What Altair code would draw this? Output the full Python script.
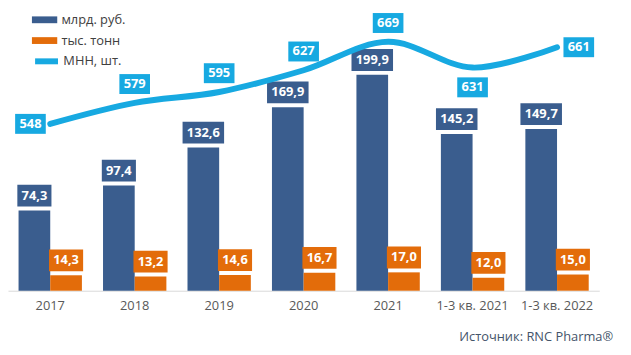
import altair as alt
import pandas as pd

categories = ["2017", "2018", "2019", "2020", "2021", "1-3 кв. 2021", "1-3 кв. 2022"]
rub = [74.3, 97.4, 132.6, 169.9, 199.9, 145.2, 149.7]
tons = [14.3, 13.2, 14.6, 16.7, 17.0, 12.0, 15.0]
inn = [548, 579, 595, 627, 669, 631, 661]
series_names = ["млрд. руб.", "тыс. тонн", "МНН, шт."]
source_text = "Источник: RNC Pharma®"

BLUE = "#3A5D8E"
ORANGE = "#E36C0A"
CYAN = "#17A9E1"
FONT = "Open Sans"

bars_df = pd.DataFrame({
    "cat": categories * 2,
    "series": [series_names[0]] * len(categories) + [series_names[1]] * len(categories),
    "value": rub + tons,
})
line_df = pd.DataFrame({"cat": categories, "series": series_names[2], "value": inn})

x_enc = alt.X("cat:N", sort=categories,
              scale=alt.Scale(paddingInner=0.25, paddingOuter=0.125),
              axis=alt.Axis(title=None, labelAngle=0, ticks=False, domainColor="#D9D9D9",
                            labelColor="#595959", labelFontSize=13, labelPadding=9,
                            labelFont=FONT))
xoff = alt.XOffset("series:N", sort=series_names[:2])
y_bar = alt.Y("value:Q", scale=alt.Scale(domain=[0, 260], nice=False), axis=None)
y_line = alt.Y("value:Q", scale=alt.Scale(domain=[302, 716], nice=False, zero=False), axis=None)

label_calc = "replace(format(datum.value, '.1f'), '.', ',')"
box_w = "(7.5*length(datum.label) - 4*(indexof(datum.label, ',') >= 0 ? 1 : 0) + 8.5)/48"
shape_calc = ("'M-' + " + box_w + " + ',-HH L' + " + box_w + " + ',-HH L' + " + box_w +
              " + ',HH L-' + " + box_w + " + ',HH Z'")

rect_path = "M-1.6,-0.43L1.6,-0.43L1.6,0.43L-1.6,0.43Z"
stroke_path = "M-1.45,0L1.45,0"

base_bar = alt.Chart(bars_df).encode(x=x_enc, xOffset=xoff, y=y_bar)

bars = base_bar.mark_bar().encode(
    color=alt.Color("series:N", sort=series_names[:2],
                    scale=alt.Scale(domain=series_names[:2], range=[BLUE, ORANGE]),
                    legend=alt.Legend(title=None, orient="none", legendX=28, legendY=1,
                                      symbolType=rect_path, symbolSize=256,
                                      labelFontSize=13, labelColor="#404040", labelFont=FONT,
                                      rowPadding=5, labelOffset=8, padding=0))
)

bar_lab = base_bar.transform_calculate(label=label_calc).transform_calculate(
    shp=shape_calc.replace("HH", "0.46"))
bar_boxes = bar_lab.mark_point(filled=True, opacity=1, size=2304, yOffset=-15, strokeWidth=0).encode(
    shape=alt.Shape("shp:N", scale=None),
    fill=alt.condition(alt.datum.series == series_names[0], alt.value(BLUE), alt.value(ORANGE)),
)
bar_texts = bar_lab.mark_text(color="white", fontWeight="bold", fontSize=13, font=FONT,
                              yOffset=-15, baseline="middle").encode(text="label:N")

bar_layer = alt.layer(bars, bar_boxes, bar_texts)

base_line = alt.Chart(line_df).encode(x=x_enc, y=y_line)
line = base_line.mark_line(interpolate="catmull-rom", strokeWidth=6, strokeCap="round").encode(
    stroke=alt.Stroke("series:N", scale=alt.Scale(domain=[series_names[2]], range=[CYAN]),
                      legend=alt.Legend(title=None, orient="none", legendX=28, legendY=41,
                                        symbolType=stroke_path, symbolSize=256,
                                        symbolStrokeWidth=6, labelFontSize=13,
                                        labelColor="#404040", labelFont=FONT,
                                        labelOffset=6, padding=0))
)

line_lab = base_line.transform_calculate(label="format(datum.value, 'd')").transform_calculate(
    shp=shape_calc.replace("HH", "0.42"))

groups = [
    (["2017"], -20, 0),
    (["2018", "2019", "2020", "2021"], 0, -19),
    (["1-3 кв. 2021"], 0, 20),
    (["1-3 кв. 2022"], 22, 0),
]
line_labels = []
for cats, dx, dy in groups:
    src = line_lab.transform_filter(alt.FieldOneOfPredicate(field="cat", oneOf=cats))
    line_labels.append(src.mark_point(filled=True, opacity=1, size=2304, xOffset=dx, yOffset=dy,
                                      strokeWidth=0, color=CYAN).encode(
        shape=alt.Shape("shp:N", scale=None)))
    line_labels.append(src.mark_text(color="white", fontWeight="bold", fontSize=13, font=FONT,
                                     xOffset=dx, yOffset=dy, baseline="middle").encode(
        text="label:N"))

line_layer = alt.layer(line, *line_labels)

chart = alt.layer(bar_layer, line_layer).resolve_scale(y="independent").properties(
    width=598, height=284,
    padding={"left": 0, "top": 0, "right": 10, "bottom": 2},
    title=alt.TitleParams(source_text, orient="bottom", anchor="end", fontSize=13,
                          fontWeight="normal", color="#44546A", font=FONT, dx=14, offset=19),
    background="white",
).configure_view(stroke=None)

chart.save("out.html", embed_options={"renderer": "svg", "actions": False})
